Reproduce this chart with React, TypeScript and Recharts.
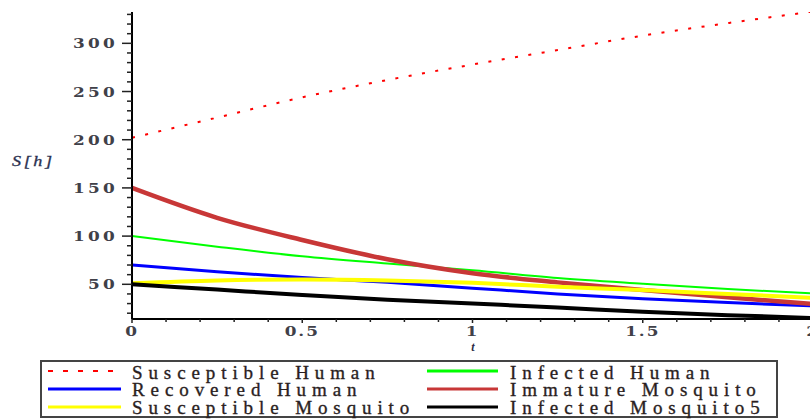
import React from 'react';
import { LineChart, Line, XAxis, YAxis } from 'recharts';

const tValues = [0, 0.25, 0.5, 0.75, 1, 1.25, 1.5, 1.75, 2];
const susceptibleHuman = [202, 223, 244, 262, 278, 293, 308, 321, 333];
const infectedHuman = [100, 89, 79, 71.5, 64.5, 56.5, 50.5, 45, 40.5];
const recoveredHuman = [70, 63, 57, 52, 46, 40, 35, 31, 27.5];
const immatureMosquito = [150, 119, 96, 76, 61.5, 52, 44, 36.5, 29.5];
const susceptibleMosquito = [51, 54, 55, 54, 51.5, 47.5, 44, 40, 36];
const infectedMosquito = [50, 44.5, 39, 34, 30, 26, 21.5, 18, 15];

const xTicks = [0, 0.1, 0.2, 0.3, 0.4, 0.5, 0.6, 0.7, 0.8, 0.9, 1, 1.1, 1.2, 1.3, 1.4, 1.5, 1.6, 1.7, 1.8, 1.9, 2];
const xMajor = ['0', '0.5', '1', '1.5', '2'];
const yTicks = [20, 30, 40, 50, 60, 70, 80, 90, 100, 110, 120, 130, 140, 150, 160, 170, 180, 190, 200, 210, 220, 230, 240, 250, 260, 270, 280, 290, 300, 310, 320, 330];
const yMajor = ['50', '100', '150', '200', '250', '300'];

const seriesNames = ['Susceptible Human', 'Infected Human', 'Recovered Human', 'Immature Mosquito', 'Susceptible Mosquito', 'Infected Mosquito5'];
const seriesKeys = ['sh', 'ih', 'rh', 'im', 'sm', 'imq'];
const seriesColors = ['#ff0000', '#00ff00', '#0000ff', '#c83737', '#ffff00', '#000000'];
const seriesWidths = [2, 2, 3, 4.5, 4, 4];
const seriesDash = ['3 10.5', undefined, undefined, undefined, undefined, undefined];

const data = tValues.map((t, i) => ({
  t,
  sh: susceptibleHuman[i],
  ih: infectedHuman[i],
  rh: recoveredHuman[i],
  im: immatureMosquito[i],
  sm: susceptibleMosquito[i],
  imq: infectedMosquito[i],
}));

const tickFont = "'DejaVu Serif', serif";
const tickColor = '#404048';

const YTick = (props: any) => {
  const { x, y, payload } = props;
  const v = payload.value;
  const major = yMajor.includes(String(v));
  return (
    <g>
      <line x1={x - (major ? 10 : 5)} x2={x} y1={y} y2={y} stroke="#222" strokeWidth={1.5} />
      {major && (
        <g transform={`translate(${x - 14},${y + 5})`}>
          <text transform="scale(1.3,1)" textAnchor="end" fontFamily={tickFont} fontWeight="bold" fontSize={13} letterSpacing={2.5} fill={tickColor}>
            {String(v)}
          </text>
        </g>
      )}
    </g>
  );
};

const XTick = (props: any) => {
  const { x, y, payload } = props;
  const v = payload.value;
  const label = xMajor.find((s) => Number(s) === v);
  return (
    <g>
      <line x1={x} x2={x} y1={y} y2={y + (label ? 4 : 3)} stroke="#222" strokeWidth={1.5} />
      {label !== undefined && (
        <g transform={`translate(${x},${y + 17})`}>
          <text transform="scale(1.3,1)" textAnchor="middle" fontFamily={tickFont} fontWeight="bold" fontSize={13} letterSpacing={1.5} fill={tickColor}>
            {label}
          </text>
        </g>
      )}
    </g>
  );
};

const legendFont = "'Liberation Serif', 'Times New Roman', serif";

const LegendBox = () => {
  const rowsY = [371, 389, 407];
  const textY = [378.5, 396, 413.5];
  const cols = [
    { lx1: 48, lx2: 121, tx: 132 },
    { lx1: 427, lx2: 498, tx: 510 },
  ];
  return (
    <svg width={810} height={419} style={{ position: 'absolute', left: 0, top: 0, pointerEvents: 'none' }}>
      <rect x={41} y={361} width={736} height={56} fill="#fff" stroke="#444" strokeWidth={2} />
      {seriesNames.map((name, i) => {
        const row = Math.floor(i / 2);
        const col = cols[i % 2];
        return (
          <g key={name}>
            <line
              x1={col.lx1}
              x2={col.lx2}
              y1={rowsY[row]}
              y2={rowsY[row]}
              stroke={seriesColors[i]}
              strokeWidth={i === 0 ? 2 : 3}
              strokeDasharray={i === 0 ? '5 10' : undefined}
            />
            <text
              x={col.tx}
              y={textY[row]}
              fontFamily={legendFont}
              fontSize={19}
              letterSpacing={5.9}
              fill="#2a1e1e"
              stroke="#2a1e1e"
              strokeWidth={0.35}
            >
              {name}
            </text>
          </g>
        );
      })}
    </svg>
  );
};

export default function App() {
  return (
    <div style={{ position: 'absolute', left: 0, top: 0, width: 810, height: 419, overflow: 'hidden', background: '#fff' }}>
      <LineChart width={830} height={419} data={data} margin={{ top: 12, right: 17, left: 0, bottom: 70 }}>
        <XAxis
          dataKey="t"
          type="number"
          domain={[0, 2]}
          ticks={xTicks}
          interval={0}
          height={30}
          axisLine={{ stroke: '#000', strokeWidth: 2 }}
          tickLine={false}
          tickSize={0}
          tickMargin={0}
          tick={<XTick />}
          label={{
            content: () => (
              <text x={473} y={351} fontFamily={legendFont} fontStyle="italic" fontWeight="bold" fontSize={12} fill="#2a2a44" textAnchor="middle">
                t
              </text>
            ),
          }}
        />
        <YAxis
          type="number"
          domain={[14, 332.5]}
          ticks={yTicks}
          interval={0}
          width={132}
          axisLine={{ stroke: '#000', strokeWidth: 2 }}
          tickLine={false}
          tickSize={0}
          tickMargin={0}
          tick={<YTick />}
          allowDataOverflow
          label={{
            content: () => (
              <g transform="translate(12,166)">
                <text transform="scale(1.3,1)" fontFamily={legendFont} fontStyle="italic" fontSize={14} letterSpacing={2} fill="#2a3050" stroke="#2a3050" strokeWidth={0.3}>
                  S[h]
                </text>
              </g>
            ),
          }}
        />
        {seriesKeys.map((k, i) => (
          <Line
            key={k}
            type="monotone"
            dataKey={k}
            stroke={seriesColors[i]}
            strokeWidth={seriesWidths[i]}
            strokeDasharray={seriesDash[i]}
            dot={false}
            isAnimationActive={false}
          />
        ))}
      </LineChart>
      <LegendBox />
    </div>
  );
}
